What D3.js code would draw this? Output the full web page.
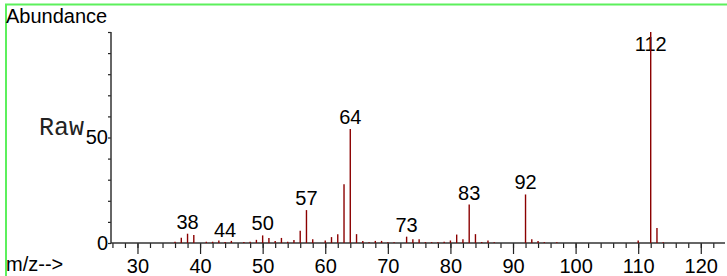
<!DOCTYPE html>
<html>
<head>
<meta charset="utf-8">
<script src="https://cdn.jsdelivr.net/npm/d3@7"></script>
<style>
  html, body { margin: 0; padding: 0; background: #fff; }
  svg { display: block; }
  text { font-family: "Liberation Sans", Arial, sans-serif; }
</style>
</head>
<body>
<svg id="chart" width="727" height="276"></svg>
<script>
// m/z values and their abundances
const mzValues = [36, 37, 38, 39, 41, 42, 43, 44, 45, 47, 48, 49, 50, 51, 52, 53, 54, 55, 56, 57, 58,
  60, 61, 62, 63, 64, 65, 66, 67, 68, 69, 70, 71, 73, 74, 75, 76, 77, 78, 79, 80, 81, 82, 83, 84, 85, 86, 87,
  92, 93, 94, 95, 97, 110, 112, 113, 114];
const abundances = [0.6, 2.5, 4.4, 3.8, 0.6, 0.6, 1.2, 0.5, 1.0, 0.5, 0.6, 1.5, 3.6, 2.4, 1.0, 2.4, 0.6, 1.4, 5.8, 15.6, 1.8,
  1.2, 2.8, 4.2, 27.8, 54, 4.2, 1.0, 0.4, 1.0, 1.0, 0.4, 0.4, 3.0, 1.8, 1.8, 0.4, 0.4, 0.4, 0.6, 1.2, 4.0, 1.8, 18.2, 4.2, 0.5, 1.2, 0.3,
  23.0, 1.8, 1.0, 0.4, 0.4, 1.2, 100, 7.1, 0.4];
const labelledPeaks = [38, 44, 50, 57, 64, 73, 83, 92, 112];
const xMajorTicks = [30, 40, 50, 60, 70, 80, 90, 100, 110, 120];
const xMinorTicks = d3.range(26, 124, 2);
const yTicks = [0, 10, 20, 30, 40, 50, 60, 70, 80, 90, 100];
const yTickLabels = [0, 50];

const svg = d3.select("#chart");

// frame remnants (green border)
svg.append("line").attr("x1", 5).attr("x2", 727).attr("y1", 4.5).attr("y2", 4.5)
  .attr("stroke", "#5cf05c").attr("stroke-width", 2);
svg.append("line").attr("x1", 6).attr("x2", 6).attr("y1", 4).attr("y2", 276)
  .attr("stroke", "#5cf05c").attr("stroke-width", 2);

const x = d3.scaleLinear().domain([25.77, 123.87]).range([111, 725]);
const y = d3.scaleLinear().domain([0, 100]).range([243, 32]);

// minor x ticks
const gMinor = svg.append("g").attr("transform", "translate(0,243)")
  .call(d3.axisBottom(x).tickValues(xMinorTicks).tickSize(5).tickFormat(""));
gMinor.select(".domain").remove();
gMinor.selectAll("line").attr("stroke", "#222").attr("stroke-width", 1.2);

// major x ticks
const gx = svg.append("g").attr("transform", "translate(0,243)")
  .call(d3.axisBottom(x).tickValues(xMajorTicks).tickSize(11).tickFormat(d3.format("d")));
gx.select(".domain").remove();
gx.selectAll("line").attr("stroke", "#222").attr("stroke-width", 1.2);
gx.selectAll("text").attr("y", 16).attr("font-size", 20)
  .attr("font-family", "'Liberation Sans', Arial, sans-serif").attr("fill", "#000");

// x axis line
svg.append("line").attr("x1", x.range()[0]).attr("x2", x.range()[1])
  .attr("y1", y(0)).attr("y2", y(0)).attr("stroke", "#333").attr("stroke-width", 1.5);

// y axis
const gy = svg.append("g").attr("transform", "translate(111,0)")
  .call(d3.axisLeft(y).tickValues(yTicks).tickSize(3)
    .tickFormat(d => yTickLabels.includes(d) ? String(d) : ""));
gy.select(".domain").remove();
gy.selectAll("line").attr("stroke", "#222").attr("stroke-width", 1.2);
gy.selectAll("text").attr("x", -3).attr("dy", "0.3em").attr("font-size", 20)
  .attr("font-family", "'Liberation Sans', Arial, sans-serif").attr("fill", "#000");
svg.append("line").attr("x1", 111).attr("x2", 111)
  .attr("y1", y(100)).attr("y2", y(0)).attr("stroke", "#333").attr("stroke-width", 1.5);

// titles
svg.append("text").attr("x", 6).attr("y", 23).attr("font-size", 20).text("Abundance");
svg.append("text").attr("x", 6).attr("y", 271).attr("font-size", 20).text("m/z-->");
svg.append("text").attr("x", 39).attr("y", 135).attr("font-size", 25)
  .style("font-family", "'Liberation Mono', 'Courier New', monospace").attr("fill", "#222").text("Raw");

const data = mzValues.map((m, i) => ({ m, v: abundances[i] }));

// peak labels
svg.append("g").selectAll("text")
  .data(data.filter(d => labelledPeaks.includes(d.m)))
  .join("text")
  .attr("x", d => x(d.m))
  .attr("y", d => Math.max(y(d.v) - 5, 51))
  .attr("text-anchor", "middle")
  .attr("font-size", 20)
  .attr("fill", "#000")
  .text(d => d.m);

// bars
svg.append("g").selectAll("line")
  .data(data)
  .join("line")
  .attr("x1", d => x(d.m)).attr("x2", d => x(d.m))
  .attr("y1", y(0)).attr("y2", d => y(d.v))
  .attr("stroke", "#8b0000")
  .attr("stroke-width", 1.4);
</script>
</body>
</html>
